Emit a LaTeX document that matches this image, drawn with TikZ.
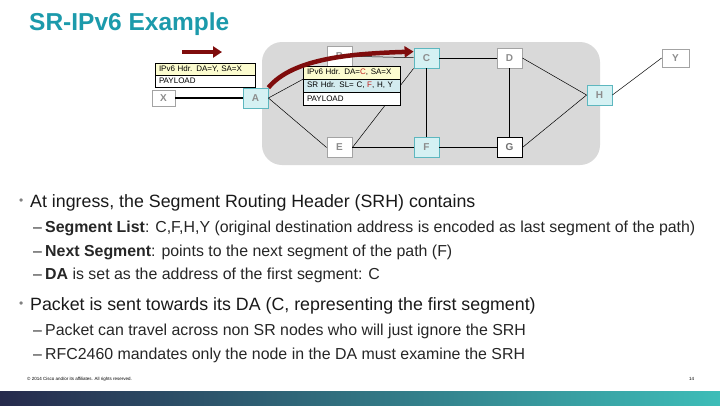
\documentclass[tikz,border=0pt]{standalone}
\usepackage{fontspec}
\setmainfont{Liberation Sans}
\usetikzlibrary{positioning,arrows.meta}
\definecolor{titleteal}{HTML}{1C9AAB}
\definecolor{cloudgray}{HTML}{D9D9D9}
\definecolor{srfill}{HTML}{D5F1F3}
\definecolor{srline}{HTML}{5DB7BF}
\definecolor{nodegray}{HTML}{8C8C8C}
\definecolor{hdryellow}{HTML}{FCFCCF}
\definecolor{srhblue}{HTML}{D3EBEF}
\definecolor{pathred}{HTML}{7F0C0C}
\definecolor{segred}{HTML}{C0201C}
\definecolor{barnavy}{HTML}{262A4C}
\definecolor{barteal}{HTML}{3DBDB8}
\begin{document}
\begin{tikzpicture}[x=1pt,y=-1pt,
  router/.style={draw=nodegray!80, fill=white, line width=0.8pt, text=nodegray, font=\fontsize{10}{10}\selectfont\bfseries, minimum width=25pt, minimum height=20pt, inner sep=0pt},
  srnode/.style={router, draw=srline, fill=srfill},
  pkt/.style={draw=black, line width=0.6pt, font=\fontsize{8}{8}\selectfont, align=left, inner xsep=4pt, inner ysep=0pt, outer sep=0pt},
  link/.style={draw=black, line width=0.5pt},
  path/.style={draw=pathred, line width=4.5pt, -{Triangle[length=9pt,width=11pt]}},
  bullet/.style={anchor=base west, inner sep=0pt, text=black!90, font=\fontsize{17.8}{20}\selectfont},
  subbullet/.style={anchor=base west, inner sep=0pt, text=black!85, font=\fontsize{15.9}{18}\selectfont}]
\useasboundingbox (0,0) rectangle (720,405);
\node[anchor=base west, inner sep=0pt, text=titleteal, font=\fontsize{24.5}{26}\selectfont\bfseries] (title) at (29,30) {SR-IPv6 Example};
% network area
\fill[cloudgray, rounded corners=20pt] (262,42) rectangle (600,165);
\node[router, minimum width=23pt, minimum height=16pt] (X) at (163.5,98) {X};
\node[srnode] (A) at (255.5,98) {A};
\node[router] (B) at (339.5,56) {B};
\node[srnode] (C) at (426.5,58) {C};
\node[router] (D) at (509.5,58) {D};
\node[router, minimum width=27pt, minimum height=18pt] (Y) at (675.5,58) {Y};
\node[srnode] (H) at (599.5,95) {H};
\node[router] (E) at (339.5,147.5) {E};
\node[srnode] (F) at (426.5,147.5) {F};
\node[router, draw=black, text=nodegray!80!black] (G) at (509.5,147.5) {G};
\draw[link, line width=1.6pt] (X.east) -- (A.west);
\draw[link] (A.east) -- (B.south west);
\draw[link] (A.east) -- (E.west);
\draw[link] (B) -- (C);
\draw[link] (C) -- (D);
\draw[link] (C) -- (F);
\draw[link] (E.east) -- (C.south west);
\draw[link] (E) -- (F);
\draw[link] (F) -- (G);
\draw[link] (D) -- (G);
\draw[link] (D.east) -- (H.west);
\draw[link] (G.east) -- (H.west);
\draw[link] (H.east) -- (Y.west);
% packets
\node[pkt, fill=hdryellow, text width=92pt, minimum height=12pt] (lhdr) at (205,69) {IPv6 Hdr. DA=Y, SA=X};
\node[pkt, fill=white, text width=92pt, minimum height=12pt, below=0pt of lhdr] (lpay) {PAYLOAD};
\node[pkt, fill=hdryellow, text width=89pt, minimum height=13pt] (rhdr) at (351.5,72.5) {IPv6 Hdr. DA=\textcolor{segred}{C}, SA=X};
\node[pkt, fill=srhblue, text width=89pt, minimum height=13pt, below=0pt of rhdr] (rsrh) {SR Hdr. SL= C, \textcolor{segred}{F}, H, Y};
\node[pkt, fill=white, text width=89pt, minimum height=13pt, below=0pt of rsrh] (rpay) {PAYLOAD};
\coordinate (s1) at (182,52);
\coordinate (s2) at (222,52);
\draw[path] (s1) -- (s2);
\draw[path] (A.north east) .. controls +(25,-30) and +(-60,2) .. ([yshift=-4pt]C.north west);
% text
\node[bullet] (b1) at (19,207) {\makebox[11pt][l]{\raisebox{2.5pt}{\textcolor{gray}{\fontsize{12}{12}\selectfont •}}}At ingress, the Segment Routing Header (SRH) contains};
\node[subbullet] (b11) at (33,232) {\makebox[12pt][l]{–}\textbf{Segment List}: C,F,H,Y (original destination address is encoded as last segment of the path)};
\node[subbullet] (b12) at (33,256) {\makebox[12pt][l]{–}\textbf{Next Segment}: points to the next segment of the path (F)};
\node[subbullet] (b13) at (33,279) {\makebox[12pt][l]{–}\textbf{DA} is set as the address of the first segment: C};
\node[bullet] (b2) at (19,310) {\makebox[11pt][l]{\raisebox{2.5pt}{\textcolor{gray}{\fontsize{12}{12}\selectfont •}}}Packet is sent towards its DA (C, representing the first segment)};
\node[subbullet] (b21) at (33,335) {\makebox[12pt][l]{–}Packet can travel across non SR nodes who will just ignore the SRH};
\node[subbullet] (b22) at (33,359) {\makebox[12pt][l]{–}RFC2460 mandates only the node in the DA must examine the SRH};
% footer
\node[anchor=west, inner sep=0pt, font=\fontsize{4.5}{5}\selectfont] (copy) at (27,379) {© 2014 Cisco and/or its affiliates. All rights reserved.};
\node[anchor=west, inner sep=0pt, font=\fontsize{4.5}{5}\selectfont] (page) at (689,379) {14};
\shade[left color=barnavy, right color=barteal] (0,391) rectangle (720,405);
\end{tikzpicture}
\end{document}
